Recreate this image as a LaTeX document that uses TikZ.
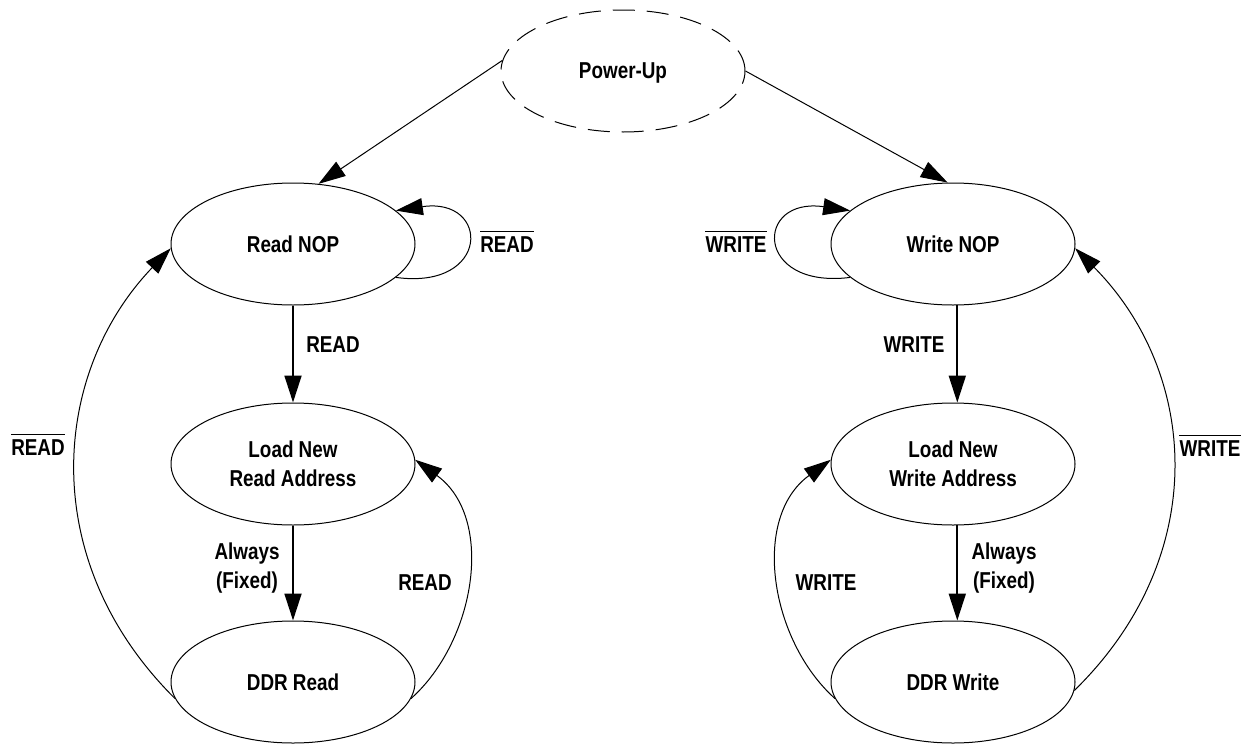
\documentclass[tikz,border=0pt]{standalone}
\usepackage{fontspec}
\newfontfamily\lblfont{Liberation Sans}[FakeStretch=0.82]
\usetikzlibrary{arrows.meta,shapes.geometric}
\tikzset{
  txt/.style={font=\lblfont\bfseries\fontsize{23}{29}\selectfont, align=center},
  state/.style={txt, ellipse, draw, line width=1pt, minimum width=244pt, minimum height=122pt, inner sep=0pt},
  startstate/.style={state, dash pattern=on 22pt off 12pt, text depth=0pt},
  lbl/.style={txt, inner sep=0pt},
  tipped/.style={-{Triangle[length=27pt,width=17pt]}},
  thinarrow/.style={tipped, line width=1pt},
  thickarrow/.style={tipped, line width=1.8pt},
  ovlbar/.style={line width=1.3pt}
}
\begin{document}
\begin{tikzpicture}[x=1pt,y=-1pt]
\fill[white] (0,0) rectangle (1253,744);
\useasboundingbox (0,0) rectangle (1253,744);

% states
\node[startstate] (pu) at (623,71) {Power-Up};
\node[state] (rn) at (293,244) {Read NOP};
\node[state] (lr) at (293,464) {Load New\\Read Address};
\node[state] (dr) at (293,682) {DDR Read};
\node[state] (wn) at (953,244) {Write NOP};
\node[state] (lw) at (953,464) {Load New\\Write Address};
\node[state] (dw) at (953,682) {DDR Write};

% labels
\node[lbl] (lrd1) at (333,345) {READ};
\node[lbl] (lal1) at (247,568) {Always\\(Fixed)};
\node[lbl] (lrd2) at (425,583) {READ};
\node[lbl] (lnr1) at (38,448) {READ};
\node[lbl] (lnr2) at (507,245) {READ};
\node[lbl] (lwr1) at (914,345) {WRITE};
\node[lbl] (lal2) at (1004,568) {Always\\(Fixed)};
\node[lbl] (lwr2) at (826,583) {WRITE};
\node[lbl] (lnw1) at (736,245) {WRITE};
\node[lbl] (lnw2) at (1210,449) {WRITE};

% overlines (negated conditions)
\foreach \n in {lnr1,lnr2,lnw1,lnw2}
  \draw[ovlbar] ([yshift=5.5pt]\n.north west) -- ([yshift=5.5pt]\n.north east);

% power-up transitions
\draw[thinarrow] (pu.175) -- (rn.67);
\draw[thinarrow] (pu.east) -- (wn.95);

% self loops
\draw[thinarrow] (rn.-18) .. controls +(95,13) and +(95,-14) .. (rn.18);
\draw[thinarrow] (wn.198) .. controls +(-96,12) and +(-96,-14) .. (wn.162);

% straight transitions
\draw[thickarrow] (rn.south) -- (lr.north);
\draw[thickarrow] (lr.south) -- (dr.north);
\draw[thickarrow] (wn.274) -- (lw.86);
\draw[thickarrow] (lw.274) -- (dw.86);

% read side curves
\draw[thinarrow] (dr.188) .. controls +(-139.5,-138.5) and +(-119,124) .. (rn.182);
\draw[thinarrow] (dr.-8) .. controls +(65,-58) and +(80,58) .. (lr.2);

% write side curves
\draw[thinarrow] (dw.188) .. controls +(-65,-58) and +(-80,58) .. (lw.178);
\draw[thinarrow] (dw.-4) .. controls +(138,-135) and +(123,124) .. (wn.-2);
\end{tikzpicture}
\end{document}
